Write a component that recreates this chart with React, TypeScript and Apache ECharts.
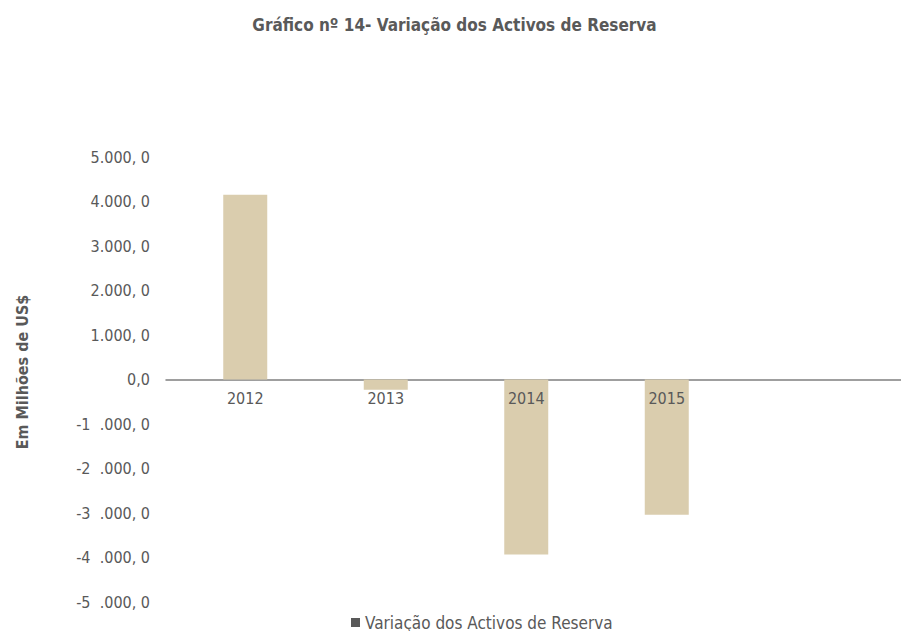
import React, { useEffect, useRef } from "react";
import * as echarts from "echarts";

const categories = ["2012", "2013", "2014", "2015"];
const reserveChange = [4150, -230, -3930, -3040];
const yMin = -5000;
const yMax = 5000;
const yStep = 1000;
const yTickValues = [-5000, -4000, -3000, -2000, -1000, 0, 1000, 2000, 3000, 4000, 5000];
const yTickLabels = [
  "-5  .000, 0",
  "-4  .000, 0",
  "-3  .000, 0",
  "-2  .000, 0",
  "-1  .000, 0",
  "0,0",
  "1.000, 0",
  "2.000, 0",
  "3.000, 0",
  "4.000, 0",
  "5.000, 0",
];
const seriesName = "Variação dos Activos de Reserva";
const titleText = "Gráfico nº 14- Variação dos Activos de Reserva";
const yAxisTitle = "Em Milhões de US$";

const FONT = "'Liberation Sans Narrow', 'DejaVu Sans Condensed', 'Roboto', sans-serif";
const GRAY = "#595959";
const W = 909;
const H = 639;
const GRID_TOP = 157;
const GRID_BOTTOM = 37;

export default function App() {
  const ref = useRef<HTMLDivElement>(null);
  useEffect(() => {
    if (!ref.current) return;
    const chart = echarts.init(ref.current, undefined, { renderer: "svg" });
    const plotH = H - GRID_TOP - GRID_BOTTOM;
    const zeroOffset = -plotH * (0 - yMin) / (yMax - yMin);
    chart.setOption({
      animation: false,
      backgroundColor: "#ffffff",
      textStyle: { fontFamily: FONT },
      title: {
        text: titleText,
        left: "center",
        top: 11,
        textStyle: { fontFamily: FONT, fontSize: 17, fontWeight: "bold", color: GRAY },
      },
      legend: {
        data: [seriesName],
        left: 351,
        top: 614,
        padding: 0,
        icon: "rect",
        itemWidth: 9,
        itemHeight: 9,
        itemGap: 6,
        itemStyle: { color: GRAY },
        textStyle: { fontFamily: FONT, fontSize: 17, color: GRAY },
      },
      graphic: [
        {
          type: "text",
          x: 22,
          y: 372,
          rotation: Math.PI / 2,
          style: {
            text: yAxisTitle,
            font: `bold 16px ${FONT}`,
            fill: GRAY,
            align: "center",
            verticalAlign: "middle",
          },
        },
      ],
      grid: [
        { left: 175, right: 172, top: GRID_TOP, bottom: GRID_BOTTOM, outerBoundsMode: "none" },
        { left: 166, right: 2, top: GRID_TOP, bottom: GRID_BOTTOM, outerBoundsMode: "none" },
      ],
      xAxis: [
        {
          type: "category",
          gridIndex: 0,
          data: categories,
          offset: zeroOffset,
          axisLine: { show: false, onZero: false },
          axisTick: { show: false },
          axisLabel: { color: GRAY, fontSize: 16, fontFamily: FONT, margin: 11 },
          z: 5,
        },
        {
          type: "category",
          gridIndex: 1,
          data: [""],
          axisLine: { show: true, onZero: true, lineStyle: { color: "#7f7f7f", width: 1.5 } },
          axisTick: { show: false },
          axisLabel: { show: false },
        },
      ],
      yAxis: [
        {
          type: "value",
          gridIndex: 0,
          min: yMin,
          max: yMax,
          interval: yStep,
          splitLine: { show: false },
          axisLine: { show: false },
          axisTick: { show: false },
          axisLabel: {
            color: GRAY,
            fontSize: 16,
            fontFamily: FONT,
            margin: 25,
            formatter: (v: number) => {
              const i = yTickValues.indexOf(Math.round(v));
              return i >= 0 ? yTickLabels[i] : "";
            },
          },
        },
        {
          type: "value",
          gridIndex: 1,
          min: yMin,
          max: yMax,
          interval: yStep,
          show: false,
          splitLine: { show: false },
        },
      ],
      series: [
        {
          name: seriesName,
          type: "bar",
          xAxisIndex: 0,
          yAxisIndex: 0,
          data: reserveChange,
          barWidth: 44,
          itemStyle: { color: "#dacdae" },
        },
      ],
    });
    return () => chart.dispose();
  }, []);
  return <div ref={ref} style={{ width: W, height: H, margin: -8 }} />;
}
